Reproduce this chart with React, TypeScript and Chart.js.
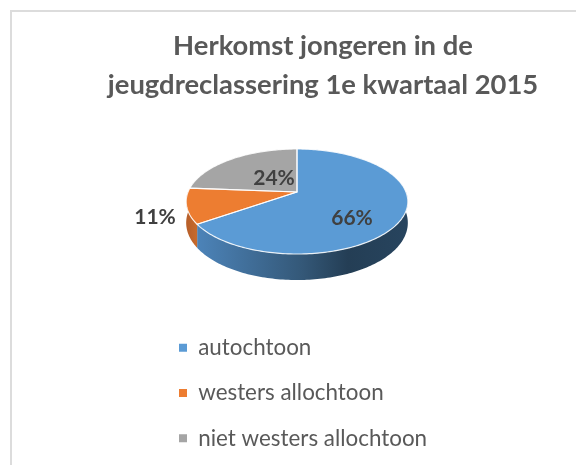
import React, { useEffect, useRef } from "react";
import { Chart, registerables } from "chart.js";

Chart.register(...registerables);

const titleLines = ["Herkomst jongeren in de", "jeugdreclassering 1e kwartaal 2015"];
const categories = ["autochtoon", "westers allochtoon", "niet westers allochtoon"];
const shares = [66, 11, 24];
const sliceColors = ["#5B9BD5", "#ED7D31", "#A5A5A5"];

const FONT = "Lato, Carlito, sans-serif";
const TILT = 0.466;
const PERSPECTIVE = 0.181;
const DEPTH = 26;
const LABEL_POS = [
  { x: 352, y: 218 },
  { x: 155, y: 217 },
  { x: 274, y: 178 },
];

type Pt = { x: number; y: number };

function project(arc: any, angle: number): Pt {
  const u = Math.cos(angle);
  const v = Math.sin(angle);
  const d = 1 - PERSPECTIVE * v;
  return {
    x: arc.x + (arc.outerRadius * u) / d,
    y: arc.y + (arc.outerRadius * TILT * v) / d,
  };
}

function rim(arc: any, from: number, to: number, depth = 0): Pt[] {
  const steps = Math.max(2, Math.ceil(Math.abs(to - from) / 0.02));
  const pts: Pt[] = [];
  for (let i = 0; i <= steps; i++) {
    const angle = from + ((to - from) * i) / steps;
    const p = project(arc, angle);
    pts.push({ x: p.x, y: p.y + depth * (0.78 + 0.22 * Math.sin(angle)) });
  }
  return pts;
}

function wedgePath(ctx: CanvasRenderingContext2D, arc: any) {
  ctx.beginPath();
  ctx.moveTo(arc.x, arc.y);
  rim(arc, arc.startAngle, arc.endAngle).forEach((p) => ctx.lineTo(p.x, p.y));
  ctx.closePath();
}

const perspectivePie = {
  id: "perspectivePie",
  beforeDraw(chart: any) {
    const { ctx, width, height } = chart;
    ctx.save();
    ctx.strokeStyle = "#DCDCDC";
    ctx.lineWidth = 2;
    ctx.beginPath();
    ctx.moveTo(width, 11);
    ctx.lineTo(11, 11);
    ctx.lineTo(11, height);
    ctx.stroke();
    ctx.restore();
  },
  afterLayout(chart: any) {
    const t = chart.titleBlock;
    t.left = 323 - 250;
    t.right = 323 + 250;
    t.top = 65.5 - t.height / 2;
    t.bottom = t.top + t.height;
    const lg = chart.legend;
    const pad = lg.options.labels.padding;
    lg.left = 179 - pad;
    lg.right = lg.left + 400;
    lg.top = 336.5 - pad;
    lg.bottom = lg.top + 160;
    const a = chart.chartArea;
    a.left = 188;
    a.right = 406;
    a.top = 83;
    a.bottom = 301;
    a.width = 218;
    a.height = 218;
  },
  beforeDatasetDraw(chart: any) {
    const { ctx } = chart;
    const arcs = chart.getDatasetMeta(0).data;
    const first = arcs[0];
    const wall = (from: number, to: number, fill: any) => {
      const pts = rim(first, from, to).concat(rim(first, to, from, DEPTH));
      ctx.beginPath();
      pts.forEach((p, i) => (i ? ctx.lineTo(p.x, p.y) : ctx.moveTo(p.x, p.y)));
      ctx.closePath();
      ctx.fillStyle = fill;
      ctx.fill();
    };
    const left = first.x - first.outerRadius;
    const right = first.x + first.outerRadius;
    const blue = ctx.createLinearGradient(left + 10, 0, right, 0);
    blue.addColorStop(0, "#4C83B8");
    blue.addColorStop(0.5, "#345878");
    blue.addColorStop(0.72, "#243E55");
    blue.addColorStop(1, "#27445E");
    const orange = ctx.createLinearGradient(left, 0, left + 14, 0);
    orange.addColorStop(0, "#B9602A");
    orange.addColorStop(1, "#D0702C");
    ctx.save();
    wall(0, Math.min(first.endAngle, Math.PI), blue);
    if (arcs[1].startAngle < Math.PI) {
      wall(arcs[1].startAngle, Math.min(arcs[1].endAngle, Math.PI), orange);
    }
    arcs.forEach((arc: any, i: number) => {
      wedgePath(ctx, arc);
      ctx.fillStyle = sliceColors[i];
      ctx.fill();
    });
    ctx.strokeStyle = "rgba(255,255,255,0.85)";
    ctx.lineWidth = 1.2;
    ctx.lineJoin = "round";
    arcs.forEach((arc: any) => {
      wedgePath(ctx, arc);
      ctx.stroke();
    });
    ctx.restore();
    return false;
  },
  afterDatasetsDraw(chart: any) {
    const { ctx } = chart;
    ctx.save();
    ctx.font = `bold 21px ${FONT}`;
    ctx.fillStyle = "#404040";
    ctx.textAlign = "center";
    ctx.textBaseline = "middle";
    shares.forEach((v, i) => {
      const p = LABEL_POS[i];
      ctx.fillText(`${v}%`, p.x, p.y);
    });
    ctx.restore();
  },
};

export default function App() {
  const ref = useRef<HTMLCanvasElement>(null);
  useEffect(() => {
    document.body.style.margin = "0";
    const chart = new Chart(ref.current!, {
      type: "pie",
      data: {
        labels: categories,
        datasets: [{ data: shares, backgroundColor: sliceColors, borderWidth: 0 }],
      },
      options: {
        responsive: false,
        animation: false,
        events: [],
        plugins: {
          title: {
            display: true,
            text: titleLines,
            color: "#595959",
            padding: 0,
            font: { family: FONT, size: 27.4, weight: "bold", lineHeight: 1.42 },
          },
          tooltip: { enabled: false },
          legend: {
            position: "left",
            align: "start",
            labels: {
              boxWidth: 8,
              boxHeight: 8,
              padding: 22.9,
              color: "#595959",
              font: { family: FONT, size: 22.4 },
            },
          },
        },
      },
      plugins: [perspectivePie],
    } as any);
    return () => chart.destroy();
  }, []);
  return <canvas ref={ref} width={576} height={465} style={{ display: "block" }} />;
}
